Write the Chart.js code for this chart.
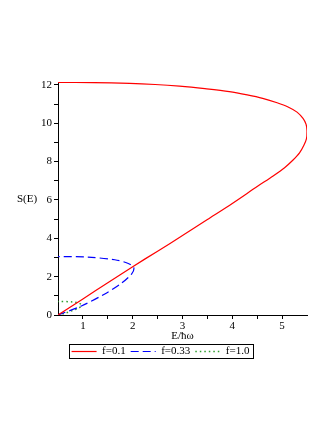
<!DOCTYPE html>
<html>
<head>
<meta charset="utf-8">
<script src="https://cdn.jsdelivr.net/npm/chart.js@4.4.1/dist/chart.umd.min.js"></script>
<style>
  html,body{margin:0;padding:0;background:#fff;}
  #wrap{position:relative;width:332px;height:430px;}
</style>
</head>
<body>
<div id="wrap"><canvas id="c" width="332" height="430"></canvas></div>
<script>
/* data: E/hw (x) and S(E) (y) per curve */
const redE   = [0.5, 1.0, 1.5, 2.0, 2.5, 3.0, 3.5, 4.0, 4.5, 4.82, 5.05, 5.22, 5.35, 5.44, 5.49, 5.5, 5.48, 5.42, 5.3, 5.12, 4.9, 4.61, 4.3, 3.94, 3.45, 2.94, 2.45, 1.94, 1.2, 0.5];
const redS   = [0.0, 0.84, 1.68, 2.52, 3.33, 4.14, 4.98, 5.82, 6.7, 7.25, 7.68, 8.08, 8.45, 8.86, 9.2, 9.6, 9.95, 10.25, 10.58, 10.85, 11.07, 11.3, 11.48, 11.65, 11.8, 11.93, 12.02, 12.08, 12.12, 12.13];
const blueE  = [0.5, 0.97, 1.44, 1.77, 1.98, 2.02, 1.9, 1.64, 1.1, 0.5];
const blueS  = [0.0, 0.47, 1.1, 1.65, 2.15, 2.49, 2.7, 2.88, 3.02, 3.05];
const greenE = [0.5, 0.65, 0.8, 0.93, 0.97, 0.93, 0.8, 0.5];
const greenS = [0.0, 0.1, 0.24, 0.38, 0.5, 0.61, 0.68, 0.71];
const labels = ['f=0.1', 'f=0.33', 'f=1.0'];
const colors = ['#ff0000', '#0000ff', '#2e9e2e'];
const xTicks = [1, 1.5, 2, 2.5, 3, 3.5, 4, 4.5, 5];
const yTicks = [0, 1, 2, 3, 4, 5, 6, 7, 8, 9, 10, 11, 12];

const pts = (xs, ys) => xs.map((x, i) => ({x, y: ys[i]}));
const FONT = {family: '"Liberation Serif", "Times New Roman", serif', size: 11};

// axis names + box round the legend
const extras = {
  id: 'extras',
  afterDraw(chart){
    const ctx = chart.ctx, a = chart.chartArea;
    ctx.save();
    ctx.fillStyle = '#000';
    ctx.font = '11px "Liberation Serif", serif';
    ctx.textAlign = 'center';
    ctx.textBaseline = 'middle';
    ctx.fillText('S(E)', 27, (a.top + a.bottom) / 2 + 1);
    ctx.fillText('E/\u0127\u03c9', (a.left + a.right) / 2, a.bottom + 21);
    const hb = chart.legend.legendHitBoxes;
    if(hb && hb.length){
      const l = Math.min(...hb.map(b => b.left)) - 3;
      const r = Math.max(...hb.map(b => b.left + b.width)) + 3;
      const t = hb[0].top - 2, h = hb[0].height + 3;
      ctx.strokeStyle = '#000';
      ctx.lineWidth = 1;
      ctx.setLineDash([]);
      ctx.strokeRect(Math.round(l) + 0.5, Math.round(t) + 0.5, Math.round(r - l), Math.round(h));
    }
    ctx.restore();
  }
};

const line = (data, i, dash, w) => ({
  label: labels[i], data,
  showLine: true,
  borderColor: colors[i],
  backgroundColor: colors[i],
  borderWidth: w,
  borderDash: dash,
  pointRadius: 0,
  pointStyle: 'line',
  tension: 0.3,
  fill: false
});

new Chart(document.getElementById('c'), {
  type: 'scatter',
  data: {
    datasets: [
      line(pts(redE, redS), 0, [], 1.2),
      line(pts(blueE, blueS), 1, [8, 4], 1.2),
      line(pts(greenE, greenS), 2, [1.5, 3], 1.5)
    ]
  },
  options: {
    responsive: false,
    animation: false,
    layout: {padding: {left: 14, right: 25, top: 82, bottom: 63}},
    plugins: {
      tooltip: {enabled: false},
      legend: {
        position: 'bottom',
        labels: {
          font: FONT, color: '#000', boxWidth: 25, padding: 5,
          usePointStyle: true, pointStyle: 'line', pointStyleWidth: 25,
          generateLabels: chart => chart.data.datasets.map((d, i) => ({
            text: d.label,
            datasetIndex: i,
            fillStyle: colors[i],
            strokeStyle: colors[i],
            fontColor: '#000',
            lineWidth: d.borderWidth,
            lineDash: d.borderDash,
            pointStyle: 'line',
            hidden: false
          }))
        }
      }
    },
    scales: {
      x: {
        type: 'linear', min: 0.5, max: 5.5,
        afterBuildTicks: s => { s.ticks = xTicks.map(v => ({value: v})); },
        afterFit: s => { s.height = 26; },
        border: {display: true, color: '#000', width: 1},
        grid: {drawOnChartArea: false, drawTicks: true, tickLength: 4, color: '#000'},
        ticks: {
          font: FONT, color: '#000', padding: 1, maxRotation: 0, autoSkip: false,
          callback: v => Number.isInteger(v) ? String(v) : ''
        }
      },
      y: {
        type: 'linear', min: 0, max: 12.15,
        afterBuildTicks: s => { s.ticks = yTicks.map(v => ({value: v})); },
        afterFit: s => { s.width = 44; },
        border: {display: true, color: '#000', width: 1},
        grid: {drawOnChartArea: false, drawTicks: true, tickLength: 4, color: '#000'},
        ticks: {
          font: FONT, color: '#000', padding: 2, autoSkip: false,
          callback: v => v % 2 === 0 ? String(v) : ''
        }
      }
    }
  },
  plugins: [extras]
});
</script>
</body>
</html>
